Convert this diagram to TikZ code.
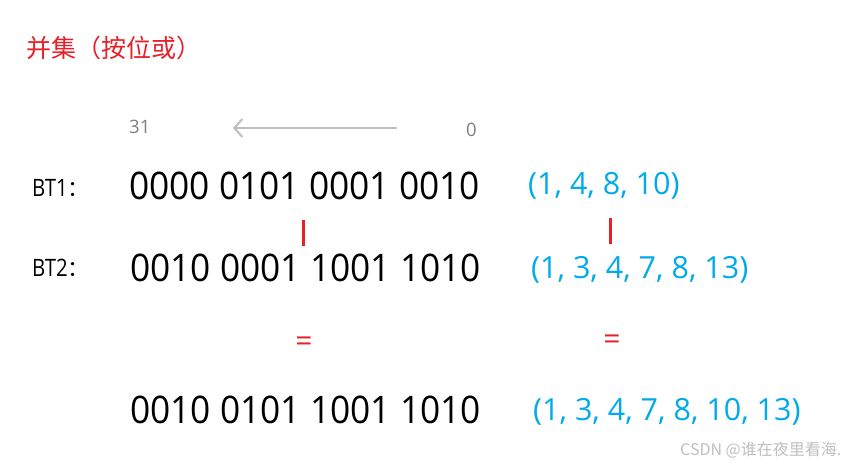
\documentclass[tikz,border=0pt]{standalone}
\usepackage{fontspec}
\usetikzlibrary{arrows.meta}
\setmainfont{Open Sans}
\newfontfamily\cjk{Noto Sans CJK SC}
\definecolor{myred}{RGB}{232,32,42}
\definecolor{myblue}{RGB}{0,170,235}
\definecolor{mygray}{RGB}{128,128,128}
\definecolor{arrgray}{RGB}{190,190,190}
\newcommand{\bitrow}[1]{\scalebox{0.93}[1]{#1}}
\begin{document}
\begin{tikzpicture}[x=1pt,y=-1pt,
  every node/.style={inner sep=0pt, anchor=west},
  bits/.style={font=\fontsize{38}{44}\selectfont, text=black},
  setx/.style={font=\fontsize{30.5}{36}\selectfont, text=myblue},
  lbl/.style={font=\fontsize{24}{28}\selectfont, text=black},
  bar/.style={draw=myred, line width=3pt},
  eq/.style={font=\fontsize{30}{34}\selectfont, text=myred, anchor=center}]
\useasboundingbox (0,0) rectangle (854,464);
\node[font=\cjk\fontsize{25}{30}\selectfont, text=myred] (title) at (26,48) {并集（按位或）};
\node[font=\fontsize{18.5}{22}\selectfont, text=mygray] (hi) at (129,127) {31};
\node[font=\fontsize{18.5}{22}\selectfont, text=mygray] (lo) at (466,130) {0};
\coordinate (as) at (397,128);
\coordinate (ae) at (233,128);
\draw[arrgray, line width=2pt, -{Straight Barb[length=8pt,width=18pt]}] (as) -- (ae);
\node[lbl] (l1) at (32,188) {\scalebox{0.85}[1]{BT1}{\cjk\fontsize{22}{26}\selectfont ：}};
\node[bits] (b1) at (129,186) {\bitrow{0000 0101 0001 0010}};
\node[setx] (s1) at (528,186) {(1, 4, 8, 10)};
\coordinate (r1a) at (303,220); \coordinate (r1b) at (303,246);
\coordinate (r2a) at (610,218); \coordinate (r2b) at (610,244);
\draw[bar] (r1a) -- (r1b);
\draw[bar] (r2a) -- (r2b);
\node[lbl] (l2) at (32,268) {\scalebox{0.85}[1]{BT2}{\cjk\fontsize{22}{26}\selectfont ：}};
\node[bits] (b2) at (130,268) {\bitrow{0010 0001 1001 1010}};
\node[setx] (s2) at (531,270) {(1, 3, 4, 7, 8, 13)};
\node[eq] (e1) at (304,344) {=};
\node[eq] (e2) at (612,342) {=};
\node[bits] (b3) at (130,410) {\bitrow{0010 0101 1001 1010}};
\node[setx] (s3) at (533,412) {(1, 3, 4, 7, 8, 10, 13)};
\node[font=\cjk\fontsize{16}{19}\selectfont, text=black!25] (wm) at (680,450) {CSDN @谁在夜里看海.};
\end{tikzpicture}
\end{document}
